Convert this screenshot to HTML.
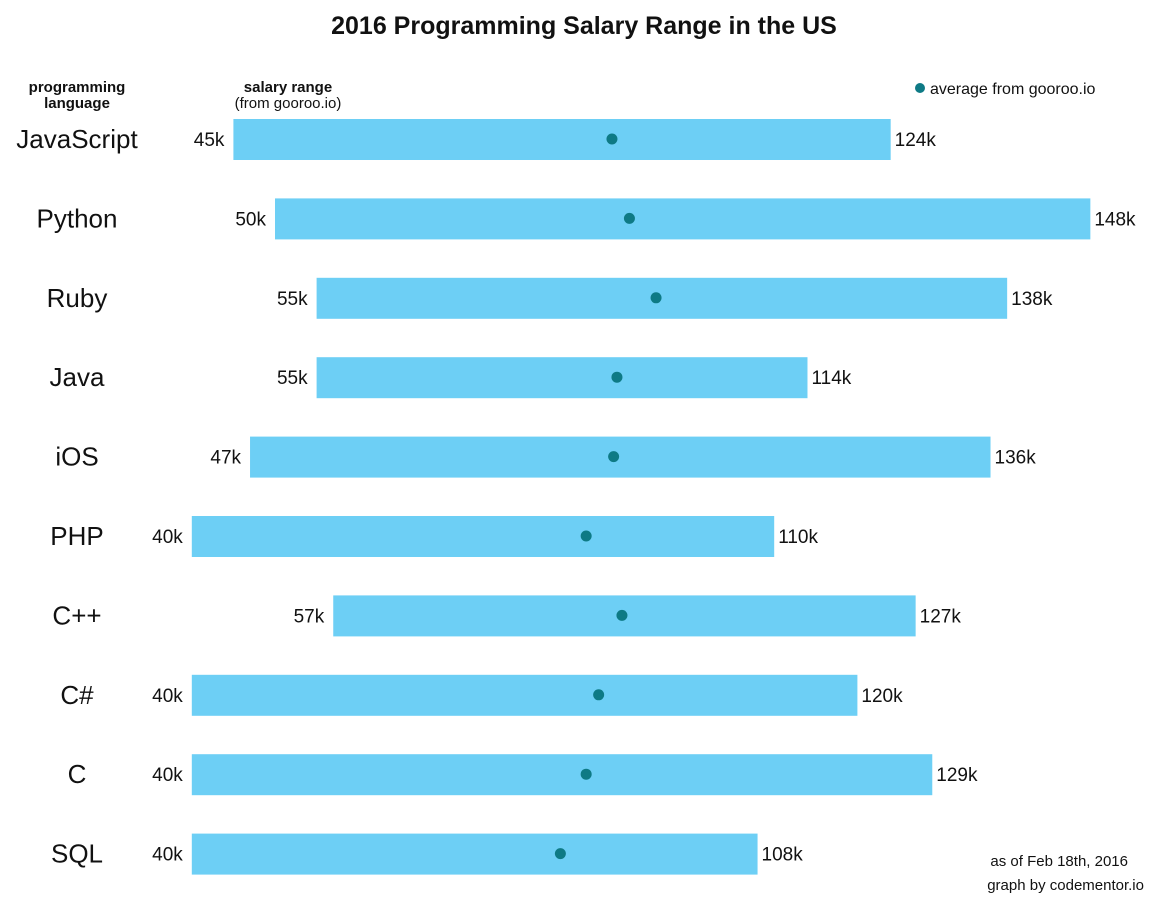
<!DOCTYPE html>
<html><head><meta charset="utf-8"><style>
body{margin:0;background:#fff;}
svg text{font-family:"Liberation Sans",sans-serif;fill:#111;}
</style></head><body>
<svg id="c" width="1158" height="900">
<text x="584" y="34" text-anchor="middle" font-size="25" font-weight="bold">2016 Programming Salary Range in the US</text>
<text x="77" y="92" text-anchor="middle" font-size="15" font-weight="bold">programming</text>
<text x="77" y="108" text-anchor="middle" font-size="15" font-weight="bold">language</text>
<text x="288" y="92" text-anchor="middle" font-size="15" font-weight="bold">salary range</text>
<text x="288" y="108" text-anchor="middle" font-size="15">(from gooroo.io)</text>
<circle cx="920" cy="88" r="5" fill="#0e7a85"/>
<text x="930" y="94" font-size="16">average from gooroo.io</text>
<text x="1128" y="866" text-anchor="end" font-size="15">as of Feb 18th, 2016</text>
<text x="1144" y="890" text-anchor="end" font-size="15">graph by codementor.io</text>
<g id="marks"></g>
</svg>
<script>
const languages=["JavaScript","Python","Ruby","Java","iOS","PHP","C++","C#","C","SQL"];
const lows=[45,50,55,55,47,40,57,40,40,40];
const highs=[124,148,138,114,136,110,127,120,129,108];
const averages=[90.5,92.6,95.8,91.1,90.7,87.4,91.7,88.9,87.4,84.3];
const NS="http://www.w3.org/2000/svg";
function xs(v){return -141+8.32*v;}
function ys(i){return 139+i*79.4;}
const g=document.getElementById('marks');
function mk(t,a){const e=document.createElementNS(NS,t);for(const k in a)e.setAttribute(k,a[k]);g.appendChild(e);return e;}
languages.forEach((l,i)=>{
  const y=ys(i),x0=xs(lows[i]),x1=xs(highs[i]);
  const b=mk('rect',{x:x0,y:y-20,width:x1-x0,height:41,fill:'#6dcff5'});
  
  
  const t=mk('text',{x:77,y:y+9,'text-anchor':'middle','font-size':'26'});t.textContent=l;
  
  
  const lo=mk('text',{x:x0-9,y:y+7,'text-anchor':'end','font-size':'19'});lo.textContent=lows[i]+'k';
  
  
  const hi=mk('text',{x:x1+4,y:y+7,'font-size':'19'});hi.textContent=highs[i]+'k';
  
  
  const d=mk('circle',{cx:xs(averages[i]),cy:y,r:5.5,fill:'#0e7a85'});
  
  
});
</script>
</body></html>
